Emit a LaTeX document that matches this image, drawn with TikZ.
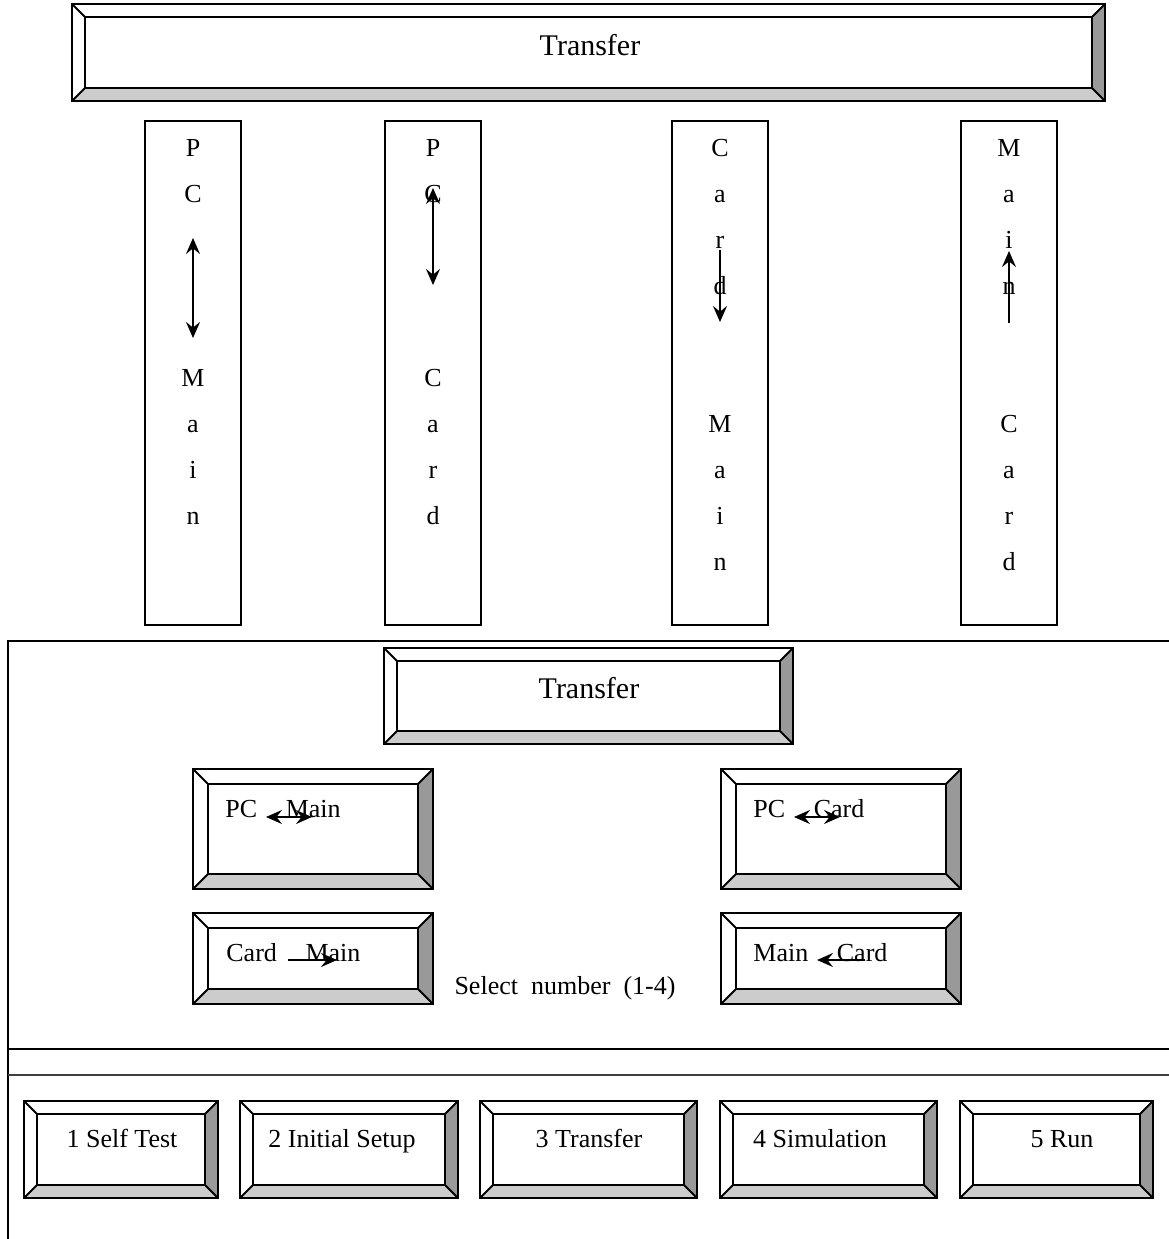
\documentclass[tikz,border=0pt]{standalone}
\usepackage{fontspec}
\setmainfont{Liberation Serif}
\usetikzlibrary{arrows.meta}

\definecolor{bevdark}{gray}{0.6}
\definecolor{bevlight}{gray}{0.8}

\tikzset{
  frame/.style={line width=1pt},
  letter/.style={anchor=base, inner sep=0pt, font=\fontsize{13}{15}\selectfont},
  btntext/.style={anchor=base west, inner sep=0pt, font=\fontsize{13}{15}\selectfont},
  btnmid/.style={anchor=base, inner sep=0pt, font=\fontsize{13}{15}\selectfont},
  title/.style={anchor=base, inner sep=0pt, font=\fontsize{15}{18}\selectfont},
  tip/.tip={Stealth[length=8pt,width=7pt,inset=2.8pt]},
  flow/.style={line width=0.9pt, -tip},
  flowboth/.style={line width=0.9pt, tip-tip},
}

% bevelled button: x1, y1, x2, y2, depth
\newcommand{\bevelbox}[5]{%
  \fill[white] (#1,#2) rectangle (#3,#4);
  \fill[bevdark] (#3,#2) -- (#3,#4) -- ({#3-#5},{#4-#5}) -- ({#3-#5},{#2+#5}) -- cycle;
  \fill[bevlight] (#1,#4) -- (#3,#4) -- ({#3-#5},{#4-#5}) -- ({#1+#5},{#4-#5}) -- cycle;
  \draw[frame] (#1,#2) rectangle (#3,#4);
  \draw[frame] ({#1+#5},{#2+#5}) rectangle ({#3-#5},{#4-#5});
  \draw[frame] (#1,#2) -- ({#1+#5},{#2+#5}) (#3,#2) -- ({#3-#5},{#2+#5})
               (#1,#4) -- ({#1+#5},{#4-#5}) (#3,#4) -- ({#3-#5},{#4-#5});
}
\newcommand{\gap}{\hspace{1.1em}}

\begin{document}
\begin{tikzpicture}[x=0.5pt, y=-0.5pt]
  \useasboundingbox (0,0) rectangle (1169,1239);

  % Top banner
  \bevelbox{72}{4}{1105}{101}{13}
  \node[title] (toptitle) at (590,55) {Transfer};

  % Vertical boxes
  \foreach \xa in {145,385,672,961}
    \draw[frame] (\xa,121) rectangle ({\xa+96},625);

  % PC <-> Main
  \foreach \ch/\row [count=\i] in {P/1,C/2,M/6,a/7,i/8,n/9}
    \node[letter] (pm-\i) at (193,{156+46*(\row-1)}) {\ch};
  % PC <-> Card
  \foreach \ch/\row [count=\i] in {P/1,C/2,C/6,a/7,r/8,d/9}
    \node[letter] (pc-\i) at (433,{156+46*(\row-1)}) {\ch};
  % Card -> Main
  \foreach \ch/\row [count=\i] in {C/1,a/2,r/3,d/4,M/7,a/8,i/9,n/10}
    \node[letter] (cm-\i) at (720,{156+46*(\row-1)}) {\ch};
  % Main <- Card
  \foreach \ch/\row [count=\i] in {M/1,a/2,i/3,n/4,C/7,a/8,r/9,d/10}
    \node[letter] (mc-\i) at (1009,{156+46*(\row-1)}) {\ch};

  \coordinate (pm-a) at (193,238);
  \coordinate (pm-b) at (193,338);
  \coordinate (pc-a) at (433,188);
  \coordinate (pc-b) at (433,285);
  \coordinate (cm-a) at (720,250);
  \coordinate (cm-b) at (720,322);
  \coordinate (mc-a) at (1009,323);
  \coordinate (mc-b) at (1009,251);
  \draw[flowboth] (pm-a) -- (pm-b);
  \draw[flowboth] (pc-a) -- (pc-b);
  \draw[flow] (cm-a) -- (cm-b);
  \draw[flow] (mc-a) -- (mc-b);

  % Screen frame
  \draw[frame] (1169,641) -- (8,641) -- (8,1239);
  \draw[frame] (8,1049) -- (1169,1049);
  \draw[frame, black!75] (8,1075) -- (1169,1075);

  % Transfer menu
  \bevelbox{384}{648}{793}{744}{13}
  \node[title] (midtitle) at (589,698) {Transfer};

  \bevelbox{193}{769}{433}{889}{15}
  \bevelbox{721}{769}{961}{889}{15}
  \bevelbox{193}{913}{433}{1004}{15}
  \bevelbox{721}{913}{961}{1004}{15}

  \node[btntext] (pcmain) at (225,817) {PC\gap Main};
  \node[btntext] (pccard) at (753,817) {PC\gap Card};
  \node[btntext] (cardmain) at (226,961) {Card\gap Main};
  \node[btntext] (maincard) at (753,961) {Main\gap Card};

  \coordinate (pcmain-a) at (266,817);
  \coordinate (pcmain-b) at (312,817);
  \coordinate (pccard-a) at (794,817);
  \coordinate (pccard-b) at (840,817);
  \coordinate (cardmain-a) at (288,960);
  \coordinate (cardmain-b) at (337,960);
  \coordinate (maincard-a) at (865,960);
  \coordinate (maincard-b) at (817,960);
  \draw[flowboth] (pcmain-a) -- (pcmain-b);
  \draw[flowboth] (pccard-a) -- (pccard-b);
  \draw[flow] (cardmain-a) -- (cardmain-b);
  \draw[flow] (maincard-a) -- (maincard-b);

  \node[btnmid] (select) at (565,994) {Select\ \ number\ \ (1-4)};

  % Function keys
  \bevelbox{24}{1101}{218}{1198}{13}
  \bevelbox{240}{1101}{458}{1198}{13}
  \bevelbox{480}{1101}{697}{1198}{13}
  \bevelbox{720}{1101}{937}{1198}{13}
  \bevelbox{960}{1101}{1153}{1198}{13}
  \node[btnmid] (key1) at (122,1147) {1 Self Test};
  \node[btnmid] (key2) at (342,1147) {2 Initial Setup};
  \node[btnmid] (key3) at (589,1147) {3 Transfer};
  \node[btnmid] (key4) at (820,1147) {4 Simulation};
  \node[btnmid] (key5) at (1062,1147) {5 Run};
\end{tikzpicture}
\end{document}
